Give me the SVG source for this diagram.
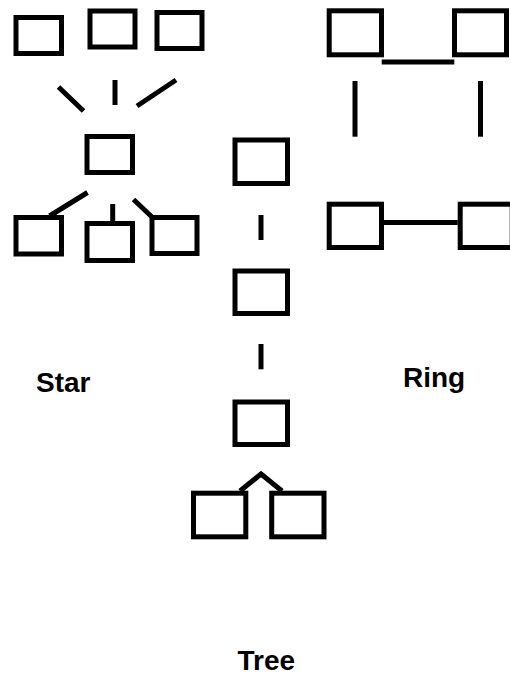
<svg xmlns="http://www.w3.org/2000/svg" width="510" height="675" viewBox="0 0 510 675">
<style>
.n{fill:#fff;stroke:#000;stroke-width:5}
.c line,.c polyline{stroke:#000;stroke-width:5;fill:none}
.t{font-family:"Liberation Sans",Arial,sans-serif;font-weight:bold;font-size:28px;fill:#000}
</style>
<rect width="510" height="675" fill="#fff"/>
<g class="c" id="connectors">
<line x1="58.5" y1="87" x2="83.5" y2="111"/>
<line x1="115" y1="80" x2="115" y2="105"/>
<line x1="137" y1="106" x2="176" y2="80"/>
<line x1="87.5" y1="192.5" x2="49.5" y2="216"/>
<line x1="112.7" y1="204" x2="112.7" y2="221"/>
<line x1="133.5" y1="199.5" x2="151.5" y2="216.5"/>
<line x1="381.7" y1="62" x2="454.3" y2="62"/>
<line x1="355" y1="81" x2="355" y2="136.7"/>
<line x1="480.5" y1="81" x2="480.5" y2="136.7"/>
<line x1="384" y1="222.5" x2="457.7" y2="222.5"/>
<line x1="261" y1="215" x2="261" y2="240"/>
<line x1="261" y1="344" x2="261" y2="369.3"/>
<polyline points="240,491 261,474 282,491"/>
</g>
<g id="star-top-left"><rect class="n" x="16" y="17.5" width="45.5" height="36"/></g>
<g id="star-top-mid"><rect class="n" x="90" y="11" width="45" height="36"/></g>
<g id="star-top-right"><rect class="n" x="157" y="12.5" width="45" height="36"/></g>
<g id="star-hub"><rect class="n" x="87" y="136.5" width="45.5" height="36"/></g>
<g id="star-bot-left"><rect class="n" x="16" y="217.5" width="45.5" height="36.5"/></g>
<g id="star-bot-mid"><rect class="n" x="87" y="223.5" width="45.5" height="37"/></g>
<g id="star-bot-right"><rect class="n" x="152" y="217.5" width="45" height="36"/></g>
<g id="ring-tl"><rect class="n" x="329.2" y="10.8" width="52.3" height="44"/></g>
<g id="ring-tr"><rect class="n" x="454.5" y="10.8" width="52" height="44"/></g>
<g id="ring-bl"><rect class="n" x="329.2" y="204.2" width="52.3" height="43.3"/></g>
<g id="ring-br"><rect class="n" x="460.2" y="204.2" width="52" height="43.3"/></g>
<g id="tree-1"><rect class="n" x="235" y="140" width="52.5" height="43.5"/></g>
<g id="tree-2"><rect class="n" x="235" y="271" width="52.5" height="42.5"/></g>
<g id="tree-3"><rect class="n" x="235" y="402" width="52.5" height="42.5"/></g>
<g id="tree-4"><rect class="n" x="193.5" y="493.2" width="52.3" height="43.6"/></g>
<g id="tree-5"><rect class="n" x="271.7" y="493.2" width="52.3" height="43.6"/></g>
<text class="t" x="36" y="392.3">Star</text>
<text class="t" x="403" y="387.3">Ring</text>
<text class="t" x="237.5" y="670">Tree</text>
</svg>
